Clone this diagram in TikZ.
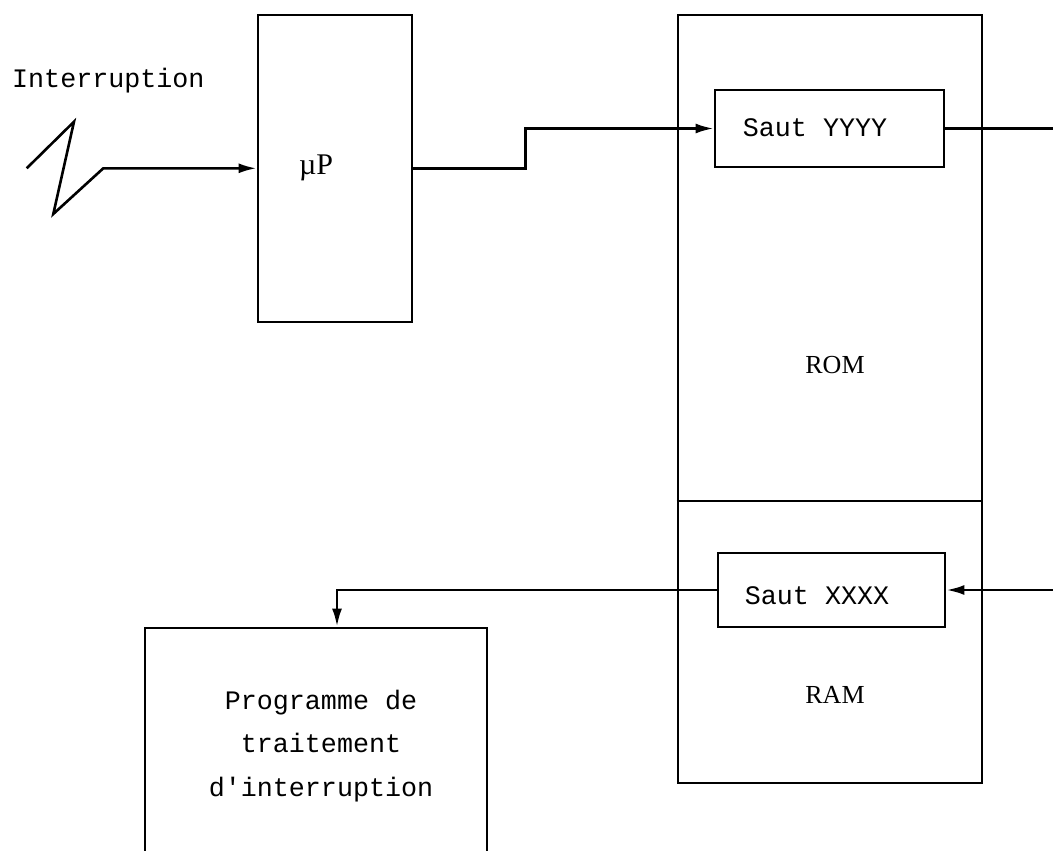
\documentclass[tikz,border=0pt]{standalone}
\usepackage{fontspec}
\setmonofont{Liberation Mono}
\newfontfamily\serifx{Liberation Serif}
\usetikzlibrary{arrows.meta}
\tikzset{
  box/.style={draw, line width=2.8pt, inner sep=0pt},
  conn/.style={line width=2.6pt},
  arr/.style={conn, -{Latex[length=18pt,width=10pt]}},
  mono/.style={font=\fontsize{26.7}{43.5}\selectfont\ttfamily, inner sep=0pt},
  serif/.style={font=\fontsize{26}{30}\selectfont\serifx, inner sep=0pt}
}
\begin{document}
\begin{tikzpicture}[x=1pt,y=-1pt]
\clip (0,0) rectangle (1053,851);
\fill[white] (0,0) rectangle (1053,851);
% boxes
\node[box, minimum width=154pt, minimum height=307pt] (up) at (335,168.5) {};
\node[serif, font=\fontsize{30}{34}\selectfont\serifx] (uplbl) at (316,168) {µP};
\node[box, minimum width=304pt, minimum height=768pt] (mem) at (830,399) {};
\coordinate (dv) at (0,501);
\draw[conn] (mem.west |- dv) -- (mem.east |- dv);
\node[box, minimum width=229pt, minimum height=77pt] (yyyy) at (829.5,128.5) {};
\node[mono] (tyyyy) at (815,128) {Saut YYYY};
\node[box, minimum width=227pt, minimum height=74pt] (xxxx) at (831.5,590) {};
\node[mono] (txxxx) at (817,596) {Saut XXXX};
\node[serif] (rom) at (835,365) {ROM};
\node[serif] (ram) at (835,695) {RAM};
\node[box, minimum width=342pt, minimum height=300pt] (prog) at (316,778) {};
\node[mono, align=center] (tprog) at (321,746) {Programme de\\traitement\\d'interruption};
% interruption
\node[mono, anchor=base west] (intr) at (12,88) {Interruption};
\coordinate (z0) at (26.7,168.3);
\coordinate (z1) at (74,121.7);
\coordinate (z2) at (53.3,214);
\coordinate (z3) at (103.3,168.3);
\draw[arr, line join=miter] (z0) -- (z1) -- (z2) -- (z3) -- (up.west |- z3);
% connectors
\draw[arr] (up.east) -- ++(112,0) |- (yyyy.west);
\coordinate (e1) at (1053,128.5);
\draw[conn] (yyyy.east) -- (e1);
\coordinate (e2) at (1053,590);
\draw[arr] (e2) -- (xxxx.east);
\draw[arr] (xxxx.west) -| ([xshift=21pt]prog.north);
\end{tikzpicture}
\end{document}
